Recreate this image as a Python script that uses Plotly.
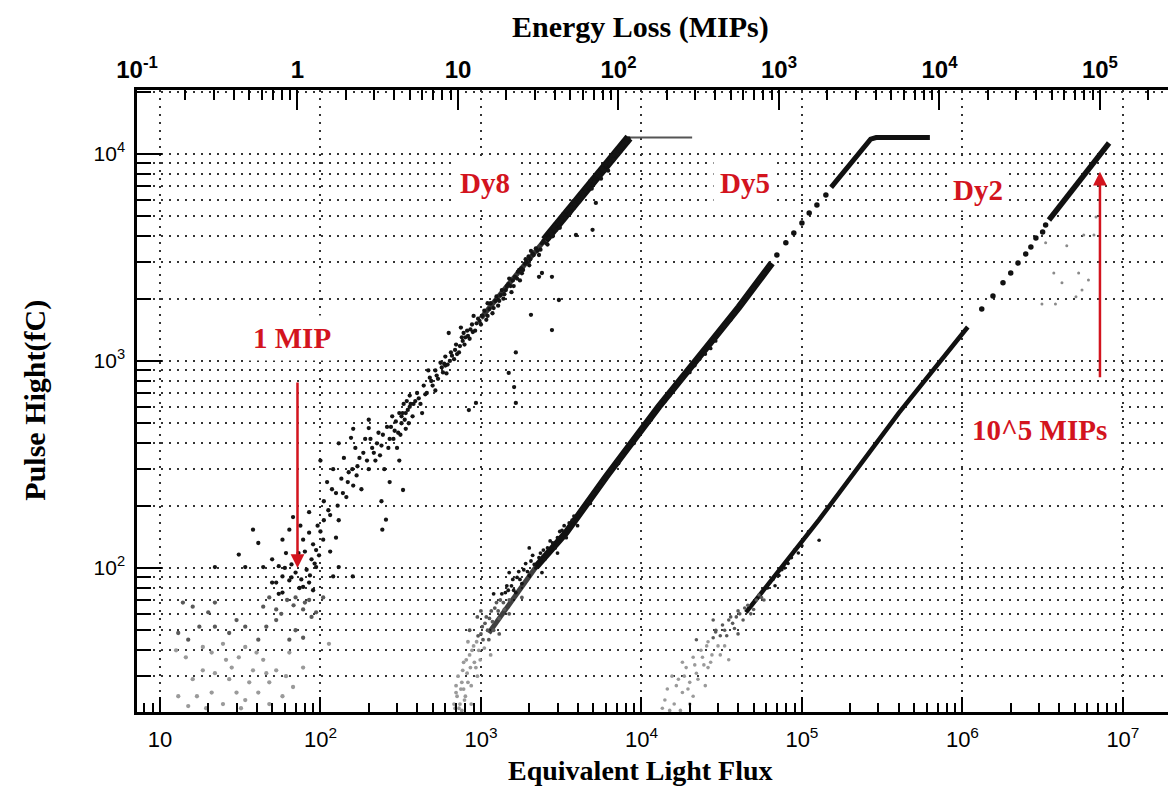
import math
import plotly.graph_objects as go

# ---------------------------------------------------------------------------
# Pulse height (fC) versus equivalent light flux for three dynode read-outs
# ---------------------------------------------------------------------------

# Dy8: scattered readings (flux, pulse height in fC)
dy8_points = [
    # near saturation
    (4800, 7400), (4900, 6800), (5000, 7100), (5100, 7300), (5200, 5800), (5300, 7900),
    (5400, 8100), (5500, 7800), (5600, 7600), (5700, 8500), (5800, 8900), (5900, 8300),
    (6000, 8900), (6100, 9100), (6200, 8300), (6300, 9000), (6400, 9200), (6500, 9600),
    (6600, 9800), (6700, 9400), (6800, 9900), (6900, 10200), (7100, 10000), (7200, 10400),
    (7300, 10600), (7400, 10300), (7500, 10800), (7600, 11000), (7700, 11100), (7800, 11300),
    (7900, 11400), (8000, 11300), (8100, 11700), (8200, 11800), (8300, 11900),
    # upper band
    (1500, 2500), (1600, 2300), (1700, 2700), (1800, 2650), (1900, 3100), (2000, 2900),
    (2100, 3300), (2200, 3500), (2300, 3250), (2400, 3700), (2500, 3900), (2600, 3650),
    (2700, 4200), (2800, 4000), (2900, 4500), (3000, 4700), (3100, 4400), (3300, 5000),
    (3400, 5300), (3600, 5200), (3700, 5700), (3900, 6000), (4100, 5900), (4200, 6400),
    (4400, 6500), (4600, 7000), (1550, 2150), (1750, 2450), (2050, 3400), (2350, 3450),
    (2650, 3900), (3200, 4900), (3800, 5500), (4300, 6200),
    (1020, 1650), (1080, 1580), (1130, 1780), (1180, 1700), (1230, 1950), (1280, 1850),
    (1330, 2080), (1380, 2000), (1430, 2200), (1480, 2350), (1530, 2300), (1580, 2450),
    (1630, 2550), (1680, 2500), (1730, 2750), (1780, 2800), (1830, 2750), (1880, 2950),
    (1930, 3000), (1980, 3200), (2030, 3100), (2130, 3250), (2250, 3400), (2450, 3800),
    (2550, 3700), (2750, 4100), (2850, 4400), (2950, 4300), (3050, 4600), (3150, 4750),
    (3250, 5100), (3350, 4900), (3500, 5400), (3550, 5100), (3650, 5500), (3750, 5900),
    (3850, 5700), (3950, 6100), (4050, 6200), (4150, 6000), (4250, 6500), (4350, 6400),
    (4450, 6800), (4500, 6600), (4700, 7100),
    (3060, 1970), (2770, 1410), (2050, 1670), (2300, 2550), (2770, 2550), (2400, 2660),
    (1650, 1100), (1610, 748), (1650, 627), (931, 627), (841, 579), (1490, 875),
    (4960, 4300), (3910, 4060),
    # middle band
    (400, 700), (420, 620), (440, 760), (460, 700), (480, 830), (500, 760), (520, 900),
    (540, 820), (560, 980), (580, 880), (600, 1050), (620, 960), (650, 1100), (680, 1020),
    (700, 1200), (730, 1100), (760, 1300), (790, 1200), (820, 1400), (850, 1280),
    (880, 1500), (920, 1400), (960, 1600), (1000, 1500), (1050, 1750), (1100, 1650),
    (1150, 1900), (1200, 1800), (1250, 2050), (1300, 1950), (1350, 2200), (1400, 2100),
    (1450, 2300), (430, 560), (470, 900), (520, 720), (610, 870), (750, 1450), (900, 1650),
    (1100, 1900), (630, 1365), (780, 1365),
    (600, 950), (640, 1000), (660, 1060), (690, 1130), (710, 1080), (740, 1180), (770, 1250),
    (800, 1300), (830, 1320), (860, 1420), (890, 1380), (940, 1520), (980, 1560), (450, 690),
    (490, 800), (530, 850), (570, 930), (590, 970), (410, 660), (380, 620), (360, 600),
    (340, 560), (320, 540),
    # lower band
    (100, 150), (105, 210), (110, 260), (115, 180), (120, 300), (125, 230), (130, 170),
    (135, 270), (140, 340), (145, 220), (150, 290), (160, 250), (165, 380), (170, 310),
    (180, 240), (185, 360), (190, 420), (200, 300), (210, 380), (220, 330), (230, 450),
    (240, 390), (250, 300), (260, 480), (270, 420), (280, 540), (290, 460), (300, 380),
    (310, 560), (320, 500), (330, 620), (340, 470), (350, 580), (360, 680), (375, 540),
    (390, 640), (100, 330), (130, 400), (160, 470), (200, 520), (155, 425), (200, 474),
    (270, 260), (310, 330), (115, 120), (125, 140), (240, 210), (256, 171), (243, 153),
    (327, 238),
    (105, 170), (112, 190), (118, 240), (128, 200), (138, 230), (148, 260), (158, 300),
    (168, 280), (175, 340), (195, 330), (205, 420), (215, 360), (225, 400), (235, 350),
    (245, 440), (265, 380), (275, 480), (285, 420), (295, 510), (305, 450), (315, 440),
    (325, 560), (335, 520), (345, 640), (355, 500), (365, 620),
    # around 1 MIP
    (67.5, 176), (85, 186), (38, 153), (41, 132), (58, 137), (64, 153), (78, 137), (85, 148),
    (104, 137), (61, 118), (73, 118), (94, 122), (31, 116), (22, 101), (34, 101), (44, 101),
    (55, 102), (94, 101), (130, 101), (159, 91), (120, 91), (58, 91), (53, 85), (64, 87),
    (78, 81), (85, 85), (48, 72), (58, 76), (70, 72), (85, 70), (104, 72), (44, 65),
    (53, 63), (78, 63), (94, 61), (46, 52), (53, 56), (70, 50), (78, 46), (64, 45), (113, 43),
    (70, 95), (88, 110), (66, 104), (50, 110), (96, 160), (75, 160),
    (80, 120), (82, 98), (90, 130), (92, 105), (98, 115), (60, 100), (66, 90), (72, 108),
    (76, 88), (86, 92), (90, 78), (62, 70), (68, 66), (74, 80), (80, 68), (55, 75), (50, 85),
    (57, 60), (88, 58),
    # pedestal region
    (13.9, 68), (16, 65), (22, 68), (13, 48.5), (15, 45), (18.5, 41.5), (22, 52), (27, 48.5),
    (30, 56), (34, 41.5), (31, 37), (40, 39), (38, 32), (46, 31), (53, 32), (61, 30),
    (18.5, 32), (22, 31), (27, 29), (16, 29), (13, 24), (17, 24), (21, 25), (24.7, 22),
    (30, 25), (34, 23), (41, 25), (48, 22), (58, 24), (19.4, 21), (14.5, 37), (17.6, 52),
    (24.7, 43), (34, 52), (41, 45), (25.8, 36), (21, 39), (36, 28), (48, 28), (64, 39),
    (20, 61), (12.6, 40), (78, 33), (67.5, 26.6), (28, 33), (44, 36), (15, 21.5), (32, 21),
]

# Dy8: dense core of the band and saturation plateau
dy8_core_low = [(1000, 1610), (2500, 3840)]
dy8_core = [(2500, 3840), (4000, 5980), (8360, 12000)]
dy8_plateau = [(8360, 12000), (20700, 12000)]

# Dy5: dense core, sparse section, and core up to the saturation plateau
dy5_core_low = [(1120, 48.5), (1560, 70), (2200, 101)]
dy5_core = [(2200, 101), (3390, 148), (6010, 275), (12800, 600), (25200, 1150),
            (40500, 1820), (65000, 2970)]
dy5_sparse = [(69800, 3250), (79400, 3720), (89000, 4150), (100000, 4640),
              (111000, 5190), (124000, 5670), (141000, 6340)]
dy5_top = [(152000, 6900), (268000, 11800), (290000, 12000), (627000, 12000)]
dy5_points = [
    (680, 22), (690, 21), (700, 25), (700, 27), (720, 30), (740, 22), (760, 28), (760, 20.5),
    (780, 35), (800, 24), (820, 31), (850, 38), (870, 27), (870, 22), (900, 42), (930, 33),
    (960, 47), (990, 36), (1020, 52), (1050, 41), (1080, 58), (1120, 45), (1160, 62),
    (1200, 50), (1250, 68), (1300, 57), (1350, 75), (1400, 63), (1450, 82), (1500, 70),
    (1580, 88), (1650, 76), (1720, 96), (1800, 84), (1900, 105), (2000, 92), (2100, 115),
    (2200, 100), (2350, 118), (2500, 110), (2700, 135), (2900, 125), (3100, 150),
    (3400, 140), (3700, 170), (4000, 160), (4400, 195), (4800, 205), (5300, 240),
    (5800, 260), (6500, 300), (7200, 320), (8000, 370), (9000, 400), (10000, 470),
    (11500, 520), (13000, 620), (15000, 680), (17000, 790), (20000, 880), (23000, 1020),
    (27000, 1150), (31000, 1380), (36000, 1580), (42000, 1900), (50000, 2250),
    (58000, 2650), (780, 26), (950, 30), (1150, 38), (830, 44), (1000, 62),
    (710, 24), (730, 21), (750, 26), (770, 32), (790, 23), (810, 36), (830, 28), (860, 33),
    (880, 40), (910, 35), (940, 44), (970, 40), (1000, 48), (1030, 45), (1060, 54),
    (1100, 50), (1130, 57), (1180, 55), (1220, 64), (1280, 62), (1320, 70), (1380, 68),
    (1420, 76), (1480, 78), (1550, 82), (1600, 78), (1680, 90), (1750, 88), (1850, 98),
    (1950, 96), (2050, 108), (2150, 104), (2300, 112), (2450, 122), (2600, 125),
    (2800, 132), (3000, 140), (3200, 152), (3300, 160), (3550, 165), (3800, 178),
    (4200, 190), (4600, 210), (5000, 228), (5500, 250), (6200, 285), (7000, 330),
    (7600, 350), (8500, 395), (9500, 440), (11000, 505), (12000, 560), (14000, 640),
    (16000, 730), (18000, 820), (21500, 950), (25000, 1080), (29000, 1250), (33000, 1480),
    (38000, 1700), (45000, 2050), (54000, 2480), (62000, 2850),
    (850, 50), (1300, 48), (950, 58), (1500, 60), (1200, 75), (1800, 72), (1500, 95),
    (2400, 95), (2000, 125), (3000, 118),
]

# Dy2: dense core, sparse section, upper core, scattered readings
dy2_core = [(44800, 61), (79400, 107), (128000, 171), (402000, 561), (1080000, 1459)]
dy2_sparse = [(1320000, 1782), (1550000, 2061), (1790000, 2385), (2000000, 2660),
              (2220000, 2970), (2480000, 3290), (2670000, 3555), (2870000, 3930),
              (3160000, 4200), (3300000, 4540)]
dy2_top = [(3460000, 4800), (5560000, 7740), (8200000, 11300)]
dy2_points = [
    (13500, 21), (14500, 26), (16000, 22), (17000, 29), (17500, 20.5), (18000, 25),
    (19000, 33), (20000, 28), (20000, 22), (21000, 37), (22000, 31), (23500, 40),
    (24500, 34), (25000, 27), (26000, 44), (27500, 38), (29000, 49), (29100, 50),
    (30000, 42), (32000, 53), (34000, 47), (35000, 36), (36000, 58), (38000, 51),
    (40000, 62), (43000, 56), (46000, 66), (50000, 63), (54000, 74), (58000, 70),
    (63000, 85), (68000, 82), (75000, 98), (82000, 105), (90000, 122), (100000, 128),
    (110000, 150), (128000, 136), (15500, 30), (21000, 24), (26000, 33), (31000, 38),
    (14000, 23), (15000, 20.5), (16500, 27), (18500, 30), (19500, 26), (21500, 34),
    (22500, 29), (24000, 37), (25500, 42), (27000, 35), (28000, 46), (31000, 47),
    (33000, 50), (35000, 56), (37000, 54), (39000, 58), (41000, 60), (44000, 64),
    (48000, 60), (52000, 70), (56000, 72), (61000, 80), (66000, 88), (72000, 92),
    (78000, 100), (86000, 112), (95000, 118), (22000, 45), (28000, 56), (40000, 48),
    (18000, 35), (33000, 42),
]
dy2_faint = [(4470000, 3600), (3710000, 2660), (5300000, 2660), (6100000, 2460),
             (4170000, 2385), (5560000, 2200), (5100000, 2040), (3130000, 1885),
             (3800000, 1885), (6600000, 4060), (6800000, 4960), (5700000, 4060),
             (3300000, 3720)]

# Arrow markers on the energy-loss scale (MIPs) and their pulse heights
arrow_mips = [1, 1e5]
arrow_head_fc = [100, 8200]
arrow_tail_fc = [800, 820]

# Axis ticks
flux_ticks = [10, 1e2, 1e3, 1e4, 1e5, 1e6, 1e7]
flux_labels = ["10", "10<sup>2</sup>", "10<sup>3</sup>", "10<sup>4</sup>",
               "10<sup>5</sup>", "10<sup>6</sup>", "10<sup>7</sup>"]
mip_ticks = [0.1, 1, 10, 1e2, 1e3, 1e4, 1e5]
mip_labels = ["10<sup>-1</sup>", "1", "10", "10<sup>2</sup>", "10<sup>3</sup>",
              "10<sup>4</sup>", "10<sup>5</sup>"]
pulse_ticks = [1e2, 1e3, 1e4]
pulse_labels = ["10<sup>2</sup>", "10<sup>3</sup>", "10<sup>4</sup>"]

MIP_LOG_OFFSET = 1.857       # log10 of the light flux equivalent of one MIP
X_RANGE = [0.857, 7.281]     # log10 flux
Y_RANGE = [1.304, 4.309]     # log10 fC

RED = "#d3141e"
SERIF = "Liberation Serif"
SANS = "Liberation Sans"


def unzip(pairs):
    return [p[0] for p in pairs], [p[1] for p in pairs]


def shade(p):
    if p >= 75:
        return "#141414"
    if p >= 45:
        return "#5a5a5a"
    return "#9a9a9a"


def minor_vals(lo, hi):
    out = []
    for k in range(lo, hi):
        for m in range(2, 10):
            out.append(m * 10.0 ** k)
    return out


fig = go.Figure()


def add_line(pairs, width, color="#111111", opacity=1.0):
    x, y = unzip(pairs)
    fig.add_trace(go.Scatter(x=x, y=y, mode="lines", hoverinfo="skip", opacity=opacity,
                             line=dict(color=color, width=width)))


def add_points(pairs, size, colors=None):
    x, y = unzip(pairs)
    if colors is None:
        colors = [shade(v) for v in y]
    fig.add_trace(go.Scatter(x=x, y=y, mode="markers", hoverinfo="skip",
                             marker=dict(size=size, color=colors, line=dict(width=0))))


# Dy8
add_line(dy8_plateau, 2, "#555555")
add_line(dy8_core_low, 5, opacity=0.85)
add_line(dy8_core, 9)
add_points(dy8_points, 4.3)

# Dy5
add_line(dy5_core_low, 5, opacity=0.8)
add_line(dy5_core, 7)
add_points(dy5_sparse, 5.5, "#111111")
add_line(dy5_top, 5)
add_points(dy5_points, 3.8)

# Dy2
add_line(dy2_core, 4.5)
add_points(dy2_sparse, 5.5, "#111111")
add_line(dy2_top, 5.5)
add_points(dy2_points, 3.6)
add_points(dy2_faint, 3, "#8a8a8a")

# Arrow tips on the MIP scale (keeps the top axis attached to real data)
fig.add_trace(go.Scatter(x=arrow_mips, y=arrow_head_fc, xaxis="x2", yaxis="y",
                         mode="markers", hoverinfo="skip",
                         marker=dict(size=1, color="rgba(0,0,0,0)")))

grid = dict(showgrid=True, gridcolor="#333333", gridwidth=2, griddash="2px,6px")

fig.update_layout(
    width=1168, height=787,
    margin=dict(l=137, r=0, t=90, b=75),
    paper_bgcolor="white", plot_bgcolor="white",
    showlegend=False,
    xaxis=dict(
        type="log", range=X_RANGE,
        tickmode="array", tickvals=flux_ticks, ticktext=flux_labels,
        ticks="inside", ticklen=15, tickwidth=2, tickcolor="black",
        ticklabelstandoff=6,
        tickfont=dict(family=SANS, size=22, color="black"),
        showline=True, linewidth=2.5, linecolor="black", mirror=False,
        zeroline=False,
        minor=dict(tickmode="array", tickvals=minor_vals(0, 8), ticks="inside",
                   ticklen=9, tickwidth=1.5, tickcolor="black", showgrid=False),
        **grid,
    ),
    xaxis2=dict(
        type="log", range=[X_RANGE[0] - MIP_LOG_OFFSET, X_RANGE[1] - MIP_LOG_OFFSET],
        overlaying="x", side="top", anchor="y",
        tickmode="array", tickvals=mip_ticks, ticktext=mip_labels,
        ticks="inside", ticklen=20, tickwidth=2, tickcolor="black",
        tickfont=dict(family=SANS, size=24, color="black", weight="bold"),
        showline=True, linewidth=2.5, linecolor="black",
        showgrid=False, zeroline=False,
        minor=dict(tickmode="array", tickvals=minor_vals(-1, 6), ticks="inside",
                   ticklen=10, tickwidth=1.5, tickcolor="black", showgrid=False),
    ),
    yaxis=dict(
        type="log", range=Y_RANGE,
        tickmode="array", tickvals=pulse_ticks, ticktext=pulse_labels,
        ticks="inside", ticklen=25, tickwidth=2, tickcolor="black",
        ticklabelstandoff=5,
        tickfont=dict(family=SANS, size=21, color="black"),
        showline=True, linewidth=2.5, linecolor="black", mirror=False,
        zeroline=False,
        minor=dict(tickmode="array", tickvals=minor_vals(1, 5), ticks="inside",
                   ticklen=14, tickwidth=2, tickcolor="black",
                   showgrid=True, gridcolor="#333333", gridwidth=2, griddash="2px,6px"),
        **grid,
    ),
)

title_font = dict(family=SERIF, size=30, color="black")
bottom_title_font = dict(family=SERIF, size=28, color="black")
label_font = dict(family=SERIF, size=29, color=RED)

annotations = [
    dict(text="<b>Energy Loss (MIPs)</b>", x=0.4888, y=1.101, font=title_font),
    dict(text="<b>Equivalent Light Flux</b>", x=0.4888, y=-0.094, font=bottom_title_font),
    dict(text="<b>Pulse Hight(fC)</b>", x=-0.099, y=0.502, textangle=-90, font=title_font),
    dict(text="<b>Dy8</b>", x=0.3375, y=0.8505, font=label_font, bgcolor="white", borderpad=6),
    dict(text="<b>Dy5</b>", x=0.5897, y=0.8505, font=label_font, bgcolor="white", borderpad=6),
    dict(text="<b>Dy2</b>", x=0.8157, y=0.8392, font=label_font, bgcolor="white", borderpad=4),
    dict(text="<b>1 MIP</b>", x=0.1503, y=0.6013, font=label_font, bgcolor="white", borderpad=6),
    dict(text="<b>10^5 MIPs</b>", x=0.8758, y=0.4534, font=label_font, bgcolor="white",
         borderpad=8),
]
for a in annotations:
    a.update(xref="paper", yref="paper", showarrow=False, xanchor="center", yanchor="middle")

for mip, head, tail in zip(arrow_mips, arrow_head_fc, arrow_tail_fc):
    annotations.append(dict(
        x=math.log10(mip), y=math.log10(head), xref="x2", yref="y",
        ax=math.log10(mip), ay=math.log10(tail), axref="x2", ayref="y",
        text="", showarrow=True, arrowhead=2, arrowsize=1.1, arrowwidth=2.5,
        arrowcolor=RED,
    ))

fig.update_layout(annotations=annotations)

fig.write_html("out.html")
